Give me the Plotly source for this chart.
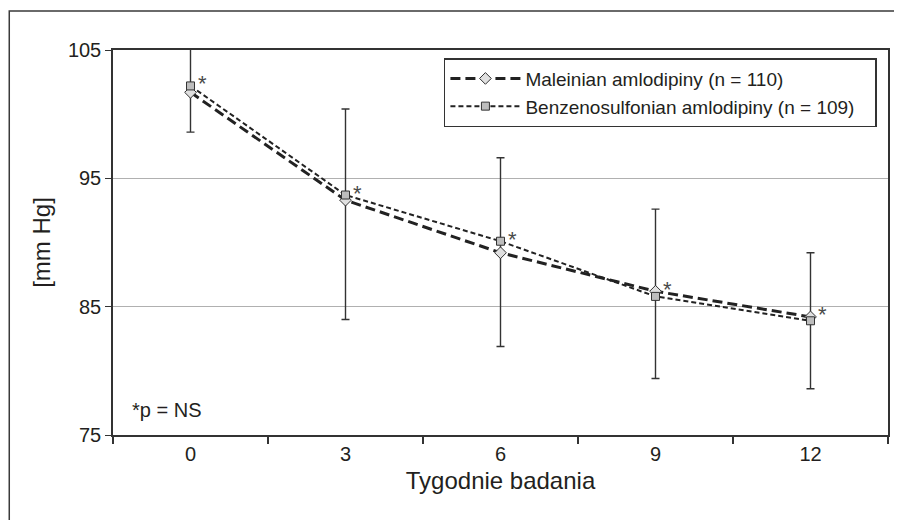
import plotly.graph_objects as go

weeks = ["0", "3", "6", "9", "12"]
maleinian = [101.7, 93.3, 89.2, 86.2, 84.2]
benzeno = [102.2, 93.7, 90.1, 85.8, 83.9]
err_upper = [105.1, 100.4, 96.6, 92.6, 89.2]
err_lower = [98.6, 84.0, 81.9, 79.4, 78.6]

FONT = "Liberation Sans Narrow, Arial Narrow, Liberation Sans, Arial, sans-serif"
TXT = "#231f20"

fig = go.Figure()

fig.add_trace(go.Scatter(
    x=weeks, y=maleinian, mode="lines+markers",
    name="Maleinian amlodipiny (n = 110)",
    line=dict(color="#222222", width=3, dash="10px,5px"),
    marker=dict(symbol="diamond", size=9, color="#e0e0e0",
                line=dict(color="#333333", width=1)),
    error_y=dict(type="data", symmetric=False,
                 array=[u - m for u, m in zip(err_upper, maleinian)],
                 arrayminus=[m - l for m, l in zip(maleinian, err_lower)],
                 color="#333333", thickness=1.4, width=4),
))
fig.add_trace(go.Scatter(
    x=weeks, y=benzeno, mode="lines+markers",
    name="Benzenosulfonian amlodipiny (n = 109)",
    line=dict(color="#222222", width=2, dash="5px,3px"),
    marker=dict(symbol="square", size=8, color="#bdbdbd",
                line=dict(color="#333333", width=1)),
))

for i, (a, b) in enumerate(zip(maleinian, benzeno)):
    fig.add_annotation(x=i, y=max(a, b), text="*", showarrow=False,
                       xshift=12, yshift=2,
                       font=dict(family=FONT, size=22, color="#4a4a4a"))

fig.add_annotation(xref="paper", yref="paper", x=0.022, y=0.065,
                   xanchor="left", yanchor="middle", showarrow=False,
                   text="*p = NS", font=dict(family=FONT, size=20, color=TXT))

L, R, T, B = 105, 12, 42, 85
FW, FH = 894, 512
W_PLOT = FW - L - R
H_PLOT = FH - T - B

# outer frame
fig.add_shape(type="rect", xref="paper", yref="paper",
              x0=(1 - L) / W_PLOT, x1=(FW + 20 - L) / W_PLOT,
              y0=-(FH + 20 - T - H_PLOT) / H_PLOT, y1=(H_PLOT + T - 3) / H_PLOT,
              line=dict(color="#3a3a3a", width=1.5), layer="below")

fig.update_layout(
    width=FW, height=FH,
    margin=dict(l=L, r=R, t=T, b=B),
    paper_bgcolor="white", plot_bgcolor="white",
    font=dict(family=FONT, size=20, color=TXT),
    showlegend=True,
    legend=dict(x=0.427, y=0.979, xanchor="left", yanchor="top",
                orientation="h", entrywidth=345, entrywidthmode="pixels",
                bgcolor="white", bordercolor="#333333", borderwidth=1.5,
                font=dict(family=FONT, size=19, color=TXT),
                tracegroupgap=0, itemwidth=70),
    xaxis=dict(type="category", title=dict(text="Tygodnie badania", standoff=8),
               showgrid=False, showline=True, linecolor="#333333", linewidth=1.5,
               mirror=True, ticks="outside", ticklen=7, tickcolor="#333333",
               tickson="boundaries", tickwidth=1.5, range=[-0.5, 4.5]),
    yaxis=dict(title=dict(text="[mm Hg]", standoff=10), range=[75, 105],
               tickvals=[75, 85, 95, 105], showgrid=True, gridcolor="#b0b0b0",
               gridwidth=1.2, showline=True, linecolor="#333333", linewidth=1.5,
               mirror=True, ticks="outside", ticklen=6, tickcolor="#333333",
               tickwidth=1.2, zeroline=False),
)

fig.write_html("out.html")
